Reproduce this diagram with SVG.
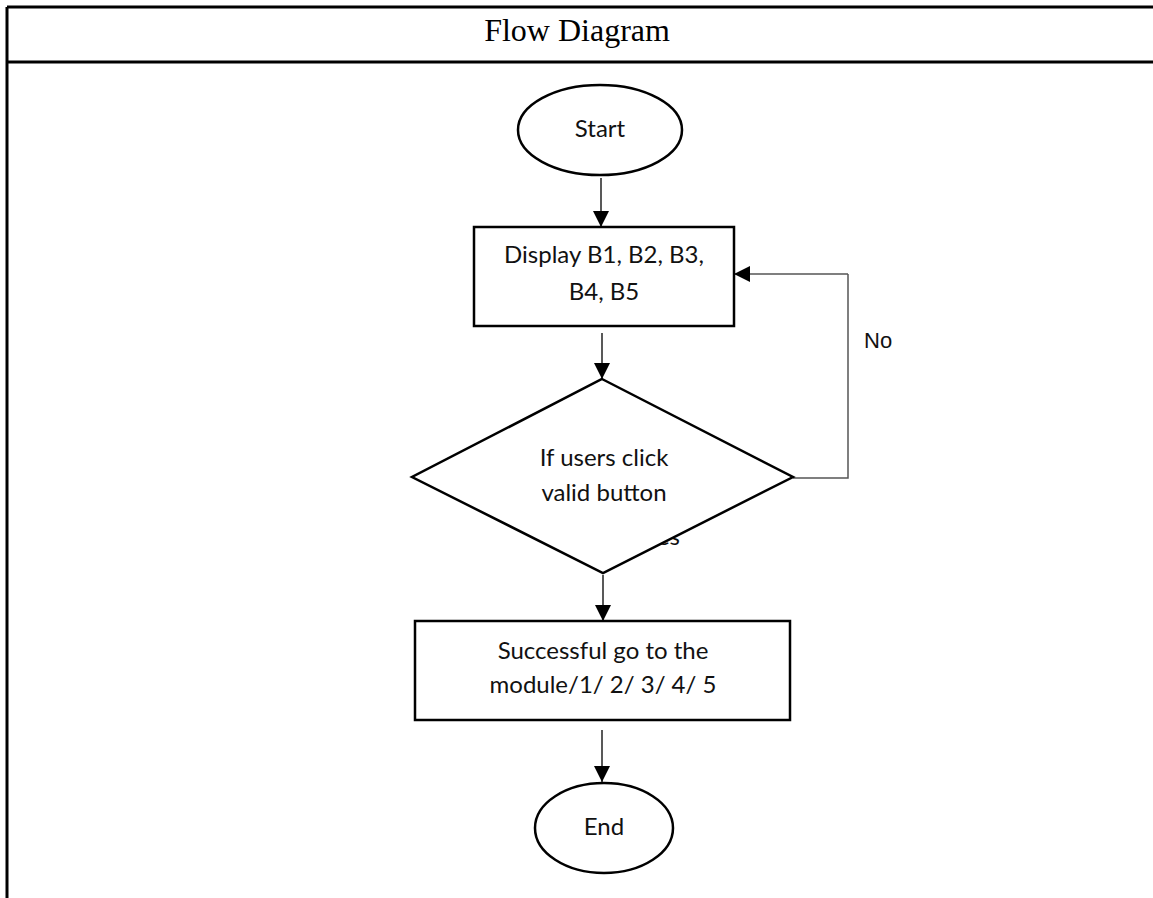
<svg xmlns="http://www.w3.org/2000/svg" width="1153" height="898" viewBox="0 0 1153 898">
  <style>
    .frame { stroke: #000; stroke-width: 3; fill: none; }
    .shape { stroke: #000; stroke-width: 2.5; fill: #fff; }
    .conn { stroke: #222; stroke-width: 1.5; fill: none; }
    .loop { stroke: #555; stroke-width: 1.5; fill: none; }
    .title { font-family: "Liberation Serif", "Times New Roman", serif; font-size: 32px; fill: #000; }
    .lbl { font-family: Lato, "Open Sans", sans-serif; font-size: 24px; fill: #111; text-anchor: middle; }
    .edge { font-family: "Liberation Sans", Arial, sans-serif; font-size: 22px; fill: #111; }
  </style>
  <defs>
    <marker id="arrow" viewBox="0 0 16 16" refX="16" refY="8" markerWidth="16" markerHeight="16" markerUnits="userSpaceOnUse" orient="auto">
      <path d="M0,0 L16,8 L0,16 Z" fill="#000"/>
    </marker>
  </defs>
  <rect width="1153" height="898" fill="#fff"/>

  <!-- table frame -->
  <g id="frame">
    <line class="frame" x1="7" y1="7" x2="1153" y2="7"/>
    <line class="frame" x1="7" y1="62" x2="1153" y2="62"/>
    <line class="frame" x1="7" y1="7" x2="7" y2="898"/>
    <text class="title" x="577" y="41" text-anchor="middle">Flow Diagram</text>
  </g>

  <!-- edge label partly hidden under the decision shape -->
  <text id="label-yes" class="lbl" x="680" y="545" style="text-anchor:end">Yes</text>

  <g id="connectors">
    <line class="conn" x1="601" y1="178" x2="601" y2="227" marker-end="url(#arrow)"/>
    <line class="conn" x1="602" y1="333" x2="602" y2="379" marker-end="url(#arrow)"/>
    <line class="conn" x1="603" y1="575" x2="603" y2="621" marker-end="url(#arrow)"/>
    <line class="conn" x1="602" y1="730" x2="602" y2="782" marker-end="url(#arrow)"/>
    <polyline class="loop" points="793,478 848,478 848,274" />
    <line class="loop" x1="848" y1="274" x2="734" y2="274" marker-end="url(#arrow)"/>
    <text class="edge" x="864" y="348">No</text>
  </g>

  <g id="start">
    <ellipse class="shape" cx="600" cy="130" rx="82" ry="45"/>
    <text class="lbl" x="600" y="137">Start</text>
  </g>

  <g id="display">
    <rect class="shape" x="474" y="227" width="260" height="99"/>
    <text class="lbl" x="604" y="263">Display B1, B2, B3,</text>
    <text class="lbl" x="604" y="300">B4, B5</text>
  </g>

  <g id="decision">
    <polygon class="shape" points="602,379 793,477 603,573 412,477"/>
    <text class="lbl" x="604" y="466">If users click</text>
    <text class="lbl" x="604" y="501">valid button</text>
  </g>

  <g id="success">
    <rect class="shape" x="415" y="621" width="375" height="99"/>
    <text class="lbl" x="603" y="659">Successful go to the</text>
    <text class="lbl" x="603" y="693">module/1/ 2/ 3/ 4/ 5</text>
  </g>

  <g id="end">
    <ellipse class="shape" cx="604" cy="828" rx="69" ry="45"/>
    <text class="lbl" x="604" y="835">End</text>
  </g>
</svg>
